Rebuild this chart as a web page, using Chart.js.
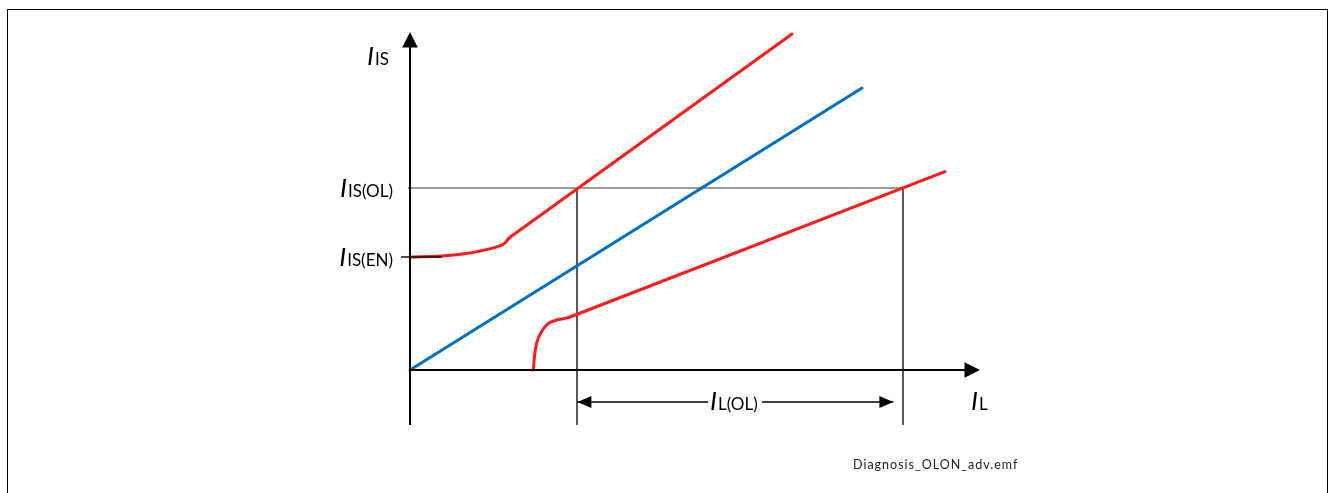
<!DOCTYPE html>
<html>
<head>
<meta charset="UTF-8">
<title>Diagnosis OL/ON</title>
<style>
    html, body { margin: 0; padding: 0; background: #fff; }
    .wrap { position: relative; width: 1332px; height: 493px; overflow: hidden; }
    .frame {
        position: absolute; left: 7px; top: 9px;
        width: 1321px; height: 520px;
        border: 1.5px solid #000; box-sizing: border-box;
    }
    canvas { position: absolute; left: 0; top: 0; }
</style>
</head>
<body>
<div class="wrap">
    <div class="frame"></div>
    <canvas id="olChart" width="1332" height="493"></canvas>
</div>
<script src="https://cdn.jsdelivr.net/npm/chart.js"></script>
<script>
    // arbitrary units, origin = (0,0) of the I_L / I_IS axes
    const blueLine = [
        {x: 0, y: 0}, {x: 22.6, y: 14.1}
    ];
    // curved start + straight part of each red trace
    const redUpperBend = [
        {x: 0, y: 5.65}, {x: 1.6, y: 5.7}, {x: 3, y: 5.85}, {x: 3.65, y: 5.98},
        {x: 4.25, y: 6.13}, {x: 4.55, y: 6.23}, {x: 4.75, y: 6.35}, {x: 4.87, y: 6.5},
        {x: 5, y: 6.64}
    ];
    const redUpperLine = [{x: 5, y: 6.64}, {x: 19.1, y: 16.8}];
    const redLowerBend = [
        {x: 6.17, y: 0}, {x: 6.22, y: 0.65}, {x: 6.33, y: 1.33}, {x: 6.58, y: 1.92},
        {x: 6.92, y: 2.33}, {x: 7.33, y: 2.5}, {x: 7.67, y: 2.56}, {x: 8, y: 2.65}
    ];
    const redLowerLine = [{x: 8, y: 2.65}, {x: 26.75, y: 9.92}];
    const levelNames = ['IS(OL)', 'IS(EN)'];
    const levelValues = [9.1, 5.65];
    const thresholdX = [8.35, 24.65];
    const axisEnd = {x: 28.5, y: 16.9, below: -2.75};
    const spanY = -1.6;
    const spanEnds = [8.37, 24.17];
    const spanLabel = 'L(OL)';
    const footnote = 'Diagnosis_OLON_adv.emf';

    function line(data, color, width, order) {
        return {
            data: data, borderColor: color, borderWidth: width,
            showLine: true, pointRadius: 0, fill: false, order: order,
            cubicInterpolationMode: 'monotone', borderCapStyle: 'round'
        };
    }
    function rule(data, color, width, order) {
        const d = line(data, color, width, order);
        d.borderCapStyle = 'butt';
        return d;
    }

    const red = '#ff1a1a';
    const datasets = [
        // axes
        rule([{x: 0, y: axisEnd.below}, {x: 0, y: axisEnd.y - 0.5}], '#000', 2, 1),
        rule([{x: 0, y: 0}, {x: axisEnd.x - 0.5, y: 0}], '#000', 2, 1),
        // OL level + thresholds
        rule([{x: -0.1, y: levelValues[0]}, {x: thresholdX[1], y: levelValues[0]}], '#7a7a7a', 1.5, 5),
        rule([{x: thresholdX[0], y: levelValues[0]}, {x: thresholdX[0], y: axisEnd.below}], '#222', 1.5, 5),
        rule([{x: thresholdX[1], y: levelValues[0]}, {x: thresholdX[1], y: axisEnd.below}], '#222', 1.5, 5),
        // EN tick
        rule([{x: -0.45, y: levelValues[1]}, {x: 1.6, y: levelValues[1]}], '#111', 1.5, 0),
        // I_L(OL) span, split round the label
        rule([{x: spanEnds[0], y: spanY}, {x: 14.9, y: spanY}], '#000', 1.5, 1),
        rule([{x: 17.6, y: spanY}, {x: spanEnds[1], y: spanY}], '#000', 1.5, 1),
        // curves
        line(blueLine, '#0070c0', 3, 3),
        line(redUpperBend, red, 3, 2),
        line(redUpperLine, red, 3, 2),
        line(redLowerBend, red, 3, 2),
        line(redLowerLine, red, 3, 2)
    ];

    function drawSym(ctx, x, y, sub, align) {
        ctx.font = 'italic 26px Lato';
        const wI = ctx.measureText('I').width;
        ctx.font = '17px Lato';
        const wS = ctx.measureText(sub).width;
        const total = wI + 1 + wS;
        let x0 = align === 'right' ? x - total : x;
        ctx.textAlign = 'left';
        ctx.textBaseline = 'alphabetic';
        ctx.fillStyle = '#000';
        ctx.font = 'italic 26px Lato';
        ctx.fillText('I', x0, y);
        ctx.font = '17px Lato';
        ctx.fillText(sub, x0 + wI + 1, y);
    }

    function tri(ctx, tip, b1, b2) {
        ctx.beginPath();
        ctx.moveTo(tip[0], tip[1]);
        ctx.lineTo(b1[0], b1[1]);
        ctx.lineTo(b2[0], b2[1]);
        ctx.closePath();
        ctx.fill();
    }

    const decor = {
        id: 'decor',
        afterDatasetsDraw(chart) {
            const ctx = chart.ctx;
            const xs = chart.scales.x, ys = chart.scales.y;
            const ox = xs.getPixelForValue(0), oy = ys.getPixelForValue(0);
            ctx.save();
            ctx.fillStyle = '#000';
            // axis arrows
            const ty = ys.getPixelForValue(axisEnd.y);
            tri(ctx, [ox, ty], [ox - 7.8, ty + 15.5], [ox + 7.8, ty + 15.5]);
            const tx = xs.getPixelForValue(axisEnd.x);
            tri(ctx, [tx, oy], [tx - 15.5, oy - 7.8], [tx - 15.5, oy + 7.8]);
            // span arrows
            const sy = ys.getPixelForValue(spanY);
            const s0 = xs.getPixelForValue(spanEnds[0]), s1 = xs.getPixelForValue(spanEnds[1]);
            tri(ctx, [s0, sy], [s0 + 14, sy - 6], [s0 + 14, sy + 6]);
            tri(ctx, [s1, sy], [s1 - 14, sy - 6], [s1 - 14, sy + 6]);
            // labels
            drawSym(ctx, ox - 43, ty + 33, 'IS', 'left');
            levelValues.forEach((v, i) => {
                drawSym(ctx, ox - 17, ys.getPixelForValue(v) + 9, levelNames[i], 'right');
            });
            drawSym(ctx, xs.getPixelForValue(15.0), sy + 8, spanLabel, 'left');
            drawSym(ctx, tx - 9, sy + 8, 'L', 'left');
            // footnote
            ctx.font = '12.5px Lato';
            ctx.fillStyle = '#222';
            ctx.letterSpacing = '1px';
            ctx.fillText(footnote, 853, 469);
            ctx.restore();
        }
    };

    new Chart(document.getElementById('olChart').getContext('2d'), {
        type: 'scatter',
        data: { datasets: datasets },
        options: {
            responsive: false,
            animation: false,
            layout: { padding: 0 },
            plugins: { legend: { display: false }, tooltip: { enabled: false } },
            scales: {
                x: { type: 'linear', display: false, min: -20.5, max: 46.1 },
                y: { type: 'linear', display: false, min: -6.15, max: 18.5 }
            }
        },
        plugins: [decor]
    });
</script>
</body>
</html>
